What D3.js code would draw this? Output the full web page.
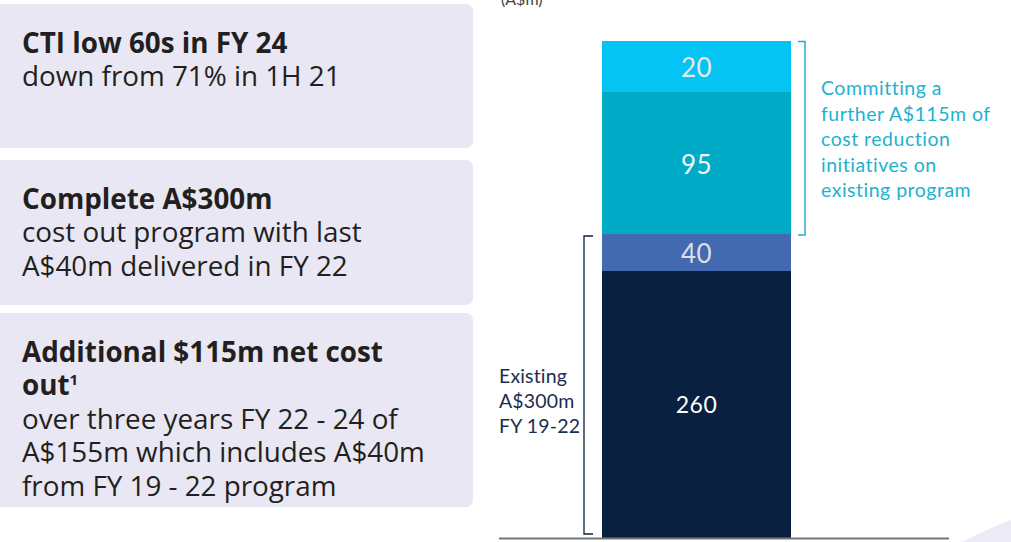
<!DOCTYPE html>
<html>
<head>
<meta charset="utf-8">
<script src="https://cdn.jsdelivr.net/npm/d3@7"></script>
<style>
  body { margin: 0; background: #fff; }
  svg { display: block; }
</style>
</head>
<body>
<svg id="chart" width="1011" height="542"></svg>
<script>
const width = 1011;
const height = 542;

// left hand cards
const cardTitles = [["CTI low 60s in FY 24"], ["Complete A$300m"], ["Additional $115m net cost", "out"]];
const cardLines = [
  ["down from 71% in 1H 21"],
  ["cost out program with last", "A$40m delivered in FY 22"],
  ["over three years FY 22 - 24 of", "A$155m which includes A$40m", "from FY 19 - 22 program"]
];

// stacked bar, bottom to top (A$m)
const segNames = ["Delivered FY 19-21", "Last tranche FY 22", "Further initiatives", "Additional initiatives"];
const segValues = [260, 40, 95, 20];
const segColors = ["#0a2040", "#4369b0", "#00abc8", "#05c3f2"];
const labelColors = ["#ffffff", "#dcdfe8", "#f2f4f5", "#e6eaec"];
const unitLabel = "(A$m)";
const rightNote = ["Committing a", "further A$115m of", "cost reduction", "initiatives on", "existing program"];
const leftNote = ["Existing", "A$300m", "FY 19-22"];

const svg = d3.select("#chart");

// ---- cards ----
const cardBoxes = [[4, 148], [160, 305], [313, 507]];
const card = svg.append("g")
  .selectAll("g")
  .data(cardTitles)
  .join("g");

card.append("rect")
  .attr("x", -8)
  .attr("y", (d, i) => cardBoxes[i][0])
  .attr("width", 481)
  .attr("height", (d, i) => cardBoxes[i][1] - cardBoxes[i][0])
  .attr("rx", 7)
  .attr("fill", "#e8e7f3");

const lineH = 33.4;
card.each(function(titles, i) {
  const g = d3.select(this);
  const top = cardBoxes[i][0] + 49;
  const t = g.append("text")
    .attr("font-family", "'Open Sans', sans-serif")
    .attr("font-size", 27.8)
    .attr("fill", "#231f20");
  titles.forEach((s, j) => {
    t.append("tspan")
      .attr("x", 22)
      .attr("y", top + j * lineH)
      .attr("font-weight", 700)
      .text(s);
    if (i === 2 && j === 1) {
      t.append("tspan").attr("font-weight", 700).attr("font-size", 15).attr("dy", -10).text("1");
    }
  });
  cardLines[i].forEach((s, j) => {
    t.append("tspan")
      .attr("x", 22)
      .attr("y", top + (titles.length + j) * lineH)
      .text(s);
  });
});

// ---- stacked bar ----
const ends = Array.from(d3.cumsum(segValues));
const stack = segValues.map((v, i) => ({ name: segNames[i], value: v, y0: ends[i] - v, y1: ends[i], i }));

// the slide draws its segments at stylised heights, so the scale is piecewise
const y = d3.scaleLinear()
  .domain([0, ...ends])
  .range([538, 271, 234, 92, 41]);

const x = d3.scaleBand()
  .domain(["Cost out"])
  .range([602, 791])
  .padding(0);

const bars = svg.append("g");
bars.selectAll("rect")
  .data(stack)
  .join("rect")
  .attr("x", x("Cost out"))
  .attr("width", x.bandwidth())
  .attr("y", d => y(d.y1))
  .attr("height", d => y(d.y0) - y(d.y1))
  .attr("fill", d => segColors[d.i]);

bars.selectAll("text")
  .data(stack)
  .join("text")
  .attr("x", x("Cost out") + x.bandwidth() / 2)
  .attr("y", d => (y(d.y0) + y(d.y1)) / 2)
  .attr("dy", d => d.i === 0 ? "0.37em" : "0.41em")
  .attr("text-anchor", "middle")
  .attr("font-family", "Lato, sans-serif")
  .attr("font-size", d => d.i === 0 ? 23 : 26)
  .attr("letter-spacing", 0.5)
  .attr("fill", d => labelColors[d.i])
  .text(d => d.value);

// baseline
svg.append("line")
  .attr("x1", 499).attr("x2", 949)
  .attr("y1", 538.5).attr("y2", 538.5)
  .attr("stroke", "#777")
  .attr("stroke-width", 2);

// unit label, cut at top of slide
svg.append("text")
  .attr("x", 501)
  .attr("y", 5)
  .attr("font-family", "Lato, sans-serif")
  .attr("font-size", 16)
  .attr("fill", "#444")
  .text(unitLabel);

// right bracket over the additional 115
const xr = x("Cost out") + x.bandwidth();
svg.append("path")
  .attr("d", `M${xr + 7},${y(415) + 0.5} H${xr + 14} V${y(300) + 1} H${xr + 7}`)
  .attr("fill", "none")
  .attr("stroke", "#2aaacb")
  .attr("stroke-width", 1.5);

svg.append("text")
  .attr("font-family", "Lato, sans-serif")
  .attr("font-size", 19.5)
  .attr("letter-spacing", 0.5)
  .attr("fill", "#1eb1cf")
  .selectAll("tspan")
  .data(rightNote)
  .join("tspan")
  .attr("x", 821)
  .attr("y", (d, i) => 95 + i * 25.5)
  .text(d => d);

// left bracket over the existing 300
const xl = x("Cost out");
svg.append("path")
  .attr("d", `M${xl - 9},${y(300) + 2} H${xl - 18} V${y(0) - 4} H${xl - 9}`)
  .attr("fill", "none")
  .attr("stroke", "#0a2040")
  .attr("stroke-width", 1.3);

svg.append("text")
  .attr("font-family", "Lato, sans-serif")
  .attr("font-size", 19.5)
  .attr("letter-spacing", 0.15)
  .attr("fill", "#1c2d4f")
  .selectAll("tspan")
  .data(leftNote)
  .join("tspan")
  .attr("x", 499)
  .attr("y", (d, i) => 383 + i * 25)
  .text(d => d);

// slide decoration in the corner
svg.append("path")
  .attr("d", "M962,542 Q990,528 1011,520 L1011,542 Z")
  .attr("fill", "#ecebf5");
</script>
</body>
</html>
